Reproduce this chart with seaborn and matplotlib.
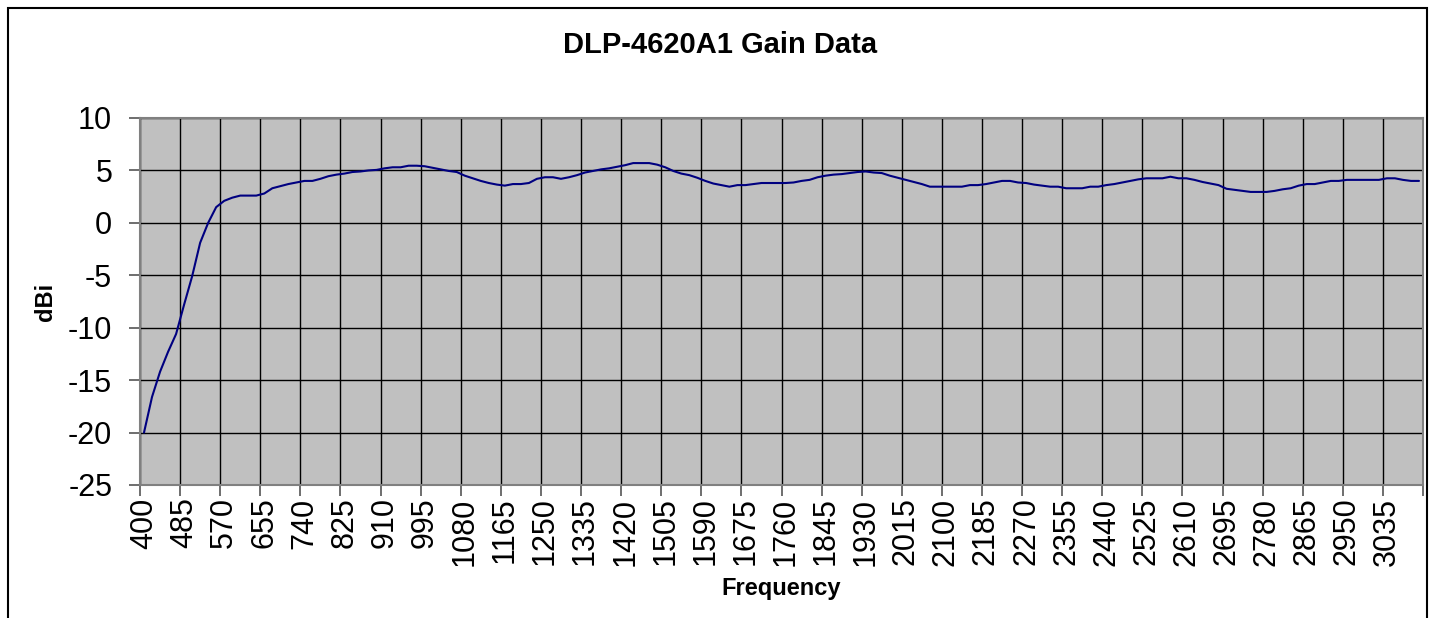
import numpy as np
import pandas as pd
import matplotlib
matplotlib.use("Agg")
import matplotlib.pyplot as plt
from matplotlib.patches import Rectangle
import seaborn as sns

# frequency categories (MHz), 17 MHz steps
frequencias = list(range(400, 3104, 17))

# gain (dBi)
ganho = [
    -20.0, -16.6, -14.2, -12.3, -10.6, -7.8, -5.1, -1.9, 0.0, 1.5,
    2.1, 2.4, 2.6, 2.6, 2.6, 2.8, 3.3, 3.5, 3.7, 3.85,
    4.0, 4.0, 4.2, 4.45, 4.6, 4.7, 4.85, 4.9, 5.0, 5.05,
    5.2, 5.3, 5.3, 5.45, 5.45, 5.4, 5.25, 5.1, 4.95, 4.85,
    4.5, 4.25, 4.0, 3.8, 3.65, 3.55, 3.7, 3.7, 3.8, 4.2,
    4.35, 4.35, 4.2, 4.35, 4.55, 4.8, 4.95, 5.1, 5.2, 5.35,
    5.5, 5.7, 5.7, 5.7, 5.55, 5.3, 4.95, 4.7, 4.55, 4.3,
    4.0, 3.75, 3.6, 3.45, 3.6, 3.6, 3.7, 3.8, 3.8, 3.8,
    3.8, 3.85, 4.0, 4.1, 4.35, 4.5, 4.6, 4.65, 4.75, 4.85,
    4.9, 4.8, 4.75, 4.5, 4.3, 4.1, 3.9, 3.7, 3.45, 3.45,
    3.45, 3.45, 3.45, 3.6, 3.6, 3.7, 3.85, 4.0, 4.0, 3.85,
    3.8, 3.65, 3.55, 3.45, 3.45, 3.3, 3.3, 3.3, 3.45, 3.45,
    3.6, 3.7, 3.85, 4.0, 4.15, 4.25, 4.25, 4.25, 4.4, 4.25,
    4.25, 4.1, 3.9, 3.75, 3.6, 3.25, 3.15, 3.05, 2.95, 2.95,
    2.95, 3.05, 3.2, 3.3, 3.55, 3.7, 3.7, 3.85, 4.0, 4.0,
    4.1, 4.1, 4.1, 4.1, 4.1, 4.25, 4.25, 4.1, 4.0, 4.0,
]

titulo = "DLP-4620A1 Gain Data"
y_ticks = [10, 5, 0, -5, -10, -15, -20, -25]

dados = pd.DataFrame({"Frequency": frequencias, "dBi": ganho})
dados["pos"] = np.arange(len(dados))

sns.set_theme(style="white")
plt.rcParams["font.family"] = ["Liberation Sans", "DejaVu Sans"]
plt.rcParams["axes.unicode_minus"] = False
plt.rcParams["text.color"] = "black"
plt.rcParams["axes.labelcolor"] = "black"
plt.rcParams["xtick.labelcolor"] = "black"
plt.rcParams["ytick.labelcolor"] = "black"

fig = plt.figure(figsize=(14.32, 6.18), dpi=100)
ax = fig.add_axes([140 / 1432, 1 - 485 / 618, (1423 - 140) / 1432, (485 - 118) / 618])
ax.set_facecolor("#C0C0C0")

sns.lineplot(data=dados, x="pos", y="dBi", color="#000080", linewidth=1.5, ax=ax)

n = len(dados)
ax.set_xlim(-0.5, n - 0.5)
ax.set_ylim(-25, 10)

# labels centred on categories, grid/ticks on category boundaries
ax.set_xticks(dados["pos"][::5])
ax.set_xticklabels([str(f) for f in dados["Frequency"][::5]], rotation=90, fontsize=22)
ax.set_xticks(np.arange(-0.5, n, 5), minor=True)
ax.tick_params(axis="x", which="major", length=0, pad=9, labelcolor="black")
ax.tick_params(axis="x", which="minor", length=8, width=1.2, color="#555555", direction="out", bottom=True)
ax.grid(True, axis="x", which="minor", color="black", linewidth=1.0)

ax.set_yticks(y_ticks)
ax.set_yticklabels([str(v) for v in y_ticks], fontsize=22)
ax.tick_params(axis="y", length=8, width=1.2, color="#555555", direction="out", left=True, pad=12, labelcolor="black")
ax.grid(True, axis="y", which="major", color="black", linewidth=1.0)

for s in ax.spines.values():
    s.set_color("#808080")
    s.set_linewidth(1.5)

ax.set_xlabel("Frequency", fontsize=17, fontweight="bold", labelpad=8, color="black")
ax.set_ylabel("dBi", fontsize=17, fontweight="bold", labelpad=8, color="black")
fig.text(720 / 1432, 1 - 45 / 618, titulo, ha="center", va="center", fontsize=21,
         fontweight="bold", color="black")

# chart area border
fig.add_artist(Rectangle((8 / 1432, -0.1), (1427 - 8) / 1432, 1.1 - 8 / 618,
                         transform=fig.transFigure, fill=False, edgecolor="black", linewidth=1.5))

fig.savefig("out.png", dpi=100)
